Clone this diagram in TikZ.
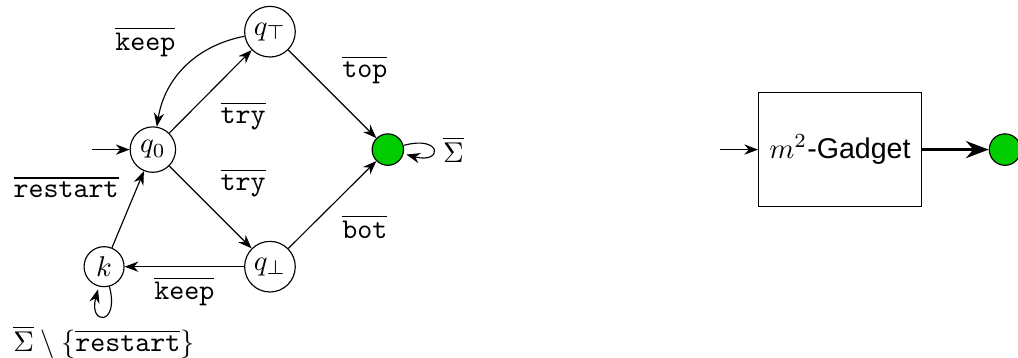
\documentclass[tikz,border=0pt]{standalone}
\usepackage{amsmath,amssymb}
\usepackage{fontspec}
\newfontfamily\gadgetfont{Liberation Sans}
\usetikzlibrary{positioning,arrows.meta}

\begin{document}
\begin{tikzpicture}[>=Stealth,
  state/.style={draw,circle,inner sep=1.8pt,minimum size=14pt},
  acc/.style={draw,circle,fill=green!80!black,minimum size=11pt,inner sep=0pt}]
  \useasboundingbox (0,0) rectangle (12.52,4.40);
  % automaton
  \node[state] (q0) at (1.88,2.56) {$q_0$};
  \node[state] (qt) at (3.32,4.01) {$q_\top$};
  \node[state] (qb) at (3.32,1.12) {$q_\bot$};
  \node[state] (k) at (1.28,1.12) {$k$};
  \node[acc] (f1) at (4.77,2.56) {};
  \coordinate (s1) at (1.13,2.56);
  \draw[->] (s1) -- (q0);
  \draw[->] (q0) -- node[below right]{$\overline{\texttt{try}}$} (qt);
  \draw[->] (qt) to[bend right=35] node[above left]{$\overline{\texttt{keep}}$} (q0);
  \draw[->] (q0) -- node[above right]{$\overline{\texttt{try}}$} (qb);
  \draw[->] (qt) -- node[above right]{$\overline{\texttt{top}}$} (f1);
  \draw[->] (qb) -- node[below right]{$\overline{\texttt{bot}}$} (f1);
  \draw[->] (qb) -- node[below]{$\overline{\texttt{keep}}$} (k);
  \draw[->] (k) -- node[pos=0.79,left=3pt]{$\overline{\texttt{restart}}$} (q0);
  \path (f1) edge[loop right] node[right]{$\overline{\Sigma}$} ();
  \path (k) edge[loop below] node[below]{$\overline{\Sigma}\setminus\{\overline{\texttt{restart}}\}$} ();
  % gadget
  \node[draw,minimum width=2cm,minimum height=1.4cm] (G) at (10.33,2.56) {\gadgetfont $m^2$-Gadget};
  \node[acc] (f2) at (12.36,2.56) {};
  \coordinate (s2) at (8.86,2.56);
  \draw[->] (s2) -- (G);
  \draw[->,line width=1.1pt] (G) -- (f2);
\end{tikzpicture}
\end{document}
